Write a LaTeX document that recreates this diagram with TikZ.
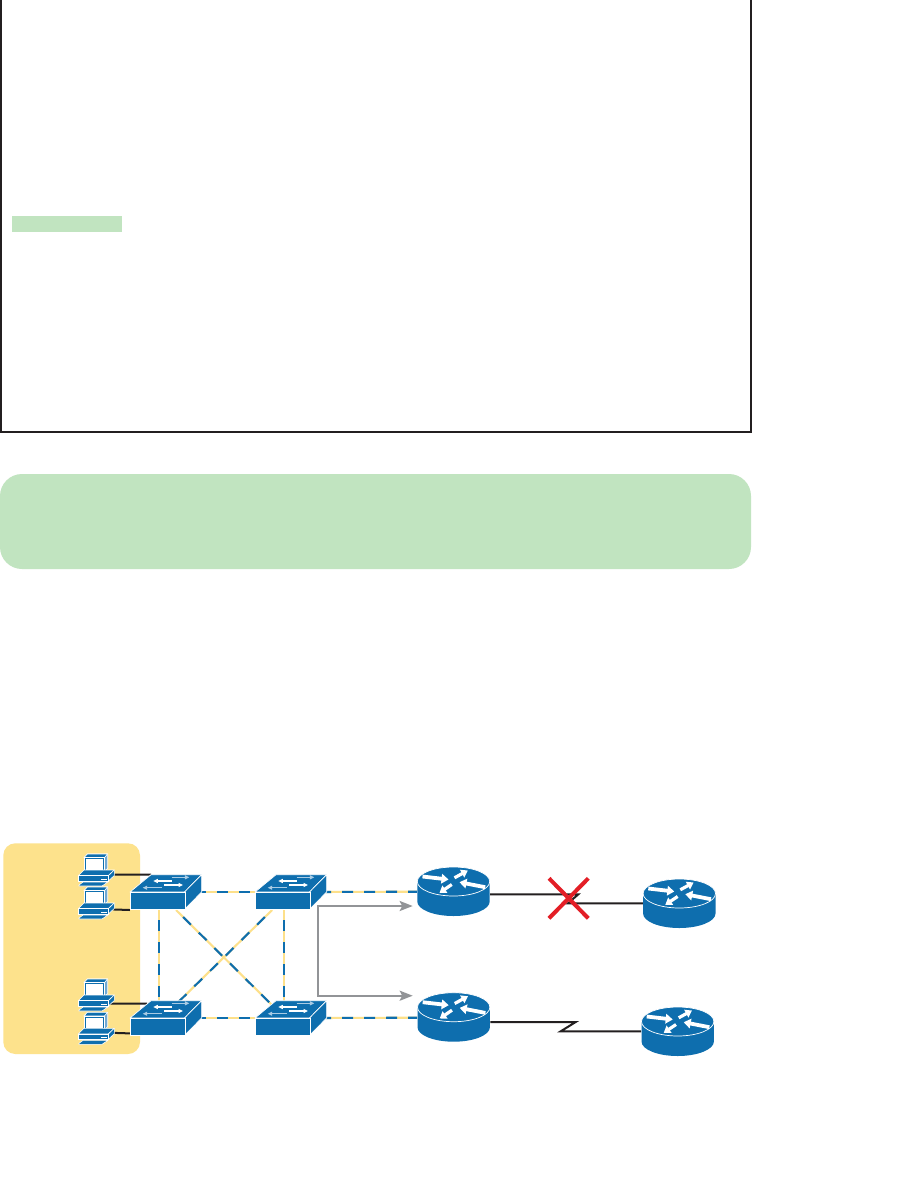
\documentclass[tikz,border=0pt]{standalone}
\usetikzlibrary{arrows.meta,shapes.geometric,calc}
\definecolor{netblue}{HTML}{0E6EAE}
\definecolor{paleblue}{HTML}{6FA8D2}
\definecolor{linkgold}{HTML}{FDE08A}
\definecolor{panelgold}{HTML}{FDE28C}
\definecolor{panelgreen}{HTML}{C1E4C0}
\definecolor{inkblack}{HTML}{231F20}
\definecolor{flowgrey}{HTML}{929497}
\definecolor{crossred}{HTML}{E31E26}
\pgfdeclarelayer{back}
\pgfdeclarelayer{links}
\pgfsetlayers{back,links,main}
\tikzset{
  x=1pt,y=-1pt,
  frameline/.style={draw=inkblack,line width=2.3pt},
  swfront/.style={rectangle,fill=netblue,draw=white,line width=.7pt,minimum width=54.5pt,minimum height=17.3pt,inner sep=0pt,anchor=north west},
  swface/.style={fill=netblue,draw=white,line width=.7pt,line join=round},
  swarrow/.style={line width=1.1pt,-{Triangle[length=4.5pt,width=4pt]}},
  rttop/.style={ellipse,fill=netblue,draw=white,line width=.7pt,minimum width=72.4pt,minimum height=29pt,inner sep=0pt},
  rtbig/.style={white,line width=3.8pt,-{Triangle[length=7pt,width=9.5pt]}},
  rtsmall/.style={white,line width=3.2pt,-{Triangle[length=6.5pt,width=8.5pt]}},
  pcbase/.style={rectangle,fill=netblue,draw=white,line width=.6pt,minimum width=30pt,minimum height=5.3pt,inner sep=0pt},
  pcface/.style={fill=netblue,draw=white,line width=.6pt,line join=round},
  wire/.style={draw=inkblack,line width=2pt},
  linkbase/.style={draw=linkgold,line width=2.1pt},
  linkdash/.style={draw=netblue,line width=2.1pt,dash pattern=on 11pt off 11pt,dash phase=12pt},
  flow/.style={draw=flowgrey,line width=2pt,{Stealth[length=13pt,width=10pt,inset=2.5pt]}-{Stealth[length=13pt,width=10pt,inset=2.5pt]}},
  crossbar/.style={draw=crossred,line width=4pt}
}
\newcommand{\netswitch}[3]{%
  \begin{scope}[shift={(#2,#3)}]
    \path[swface] (0,0) -- (21,-17.3) -- (71.7,-17.3) -- (54.5,0) -- cycle;
    \path[swface] (54.5,0) -- (71.7,-17.3) -- (71.7,0) -- (54.5,17.3) -- cycle;
    \draw[swarrow,white] (41.7,-11) -- (23.3,-11);
    \draw[swarrow,paleblue!60!white] (41.7,-14.7) -- (59.3,-14.7);
    \draw[swarrow,white] (34,-7) -- (53,-7);
    \draw[swarrow,paleblue!60!white] (31.7,-4.3) -- (12.7,-4.3);
  \end{scope}
  \node[swfront] (#1) at (#2,#3) {};%
}
\newcommand{\netrouter}[3]{%
  \fill[netblue] (#2-36.2,#3) -- (#2-36.2,#3+20) arc[start angle=180,end angle=360,x radius=36.2pt,y radius=14.5pt] -- (#2+36.2,#3) -- cycle;
  \node[rttop] (#1) at (#2,#3) {};
  \begin{scope}[shift={(#2,#3)}]
    \draw[rtbig] (-31,-5) -- (-5,-2);
    \draw[rtsmall] (1,-3.7) -- (14.3,-11);
    \draw[rtbig] (31.7,5.7) -- (6,.7);
    \draw[rtsmall] (-1.7,3) -- (-14,11.3);
  \end{scope}
}
\newcommand{\netpc}[3]{%
  \begin{scope}[shift={(#2,#3)}]
    \path[pcface,fill=paleblue] (0,3.7) -- (3.3,0) -- (23.7,0) -- (23.7,14.3) -- (20.3,17.7) -- cycle;
    \path[pcface] (0,3.7) -- (3.3,0) -- (23.7,0) -- (20.3,3.7) -- cycle;
    \path[pcface,fill=white] (0,3.7) rectangle (20.3,17.7);
    \path[fill=white,draw=netblue,line width=1.1pt] (1.2,4.9) rectangle (19.1,16.5);
    \path[pcface] (-5.7,21.7) -- (0,16) -- (30.3,16) -- (24.3,21.7) -- cycle;
    \path[pcface] (24.3,21.7) -- (30.3,16) -- (30.3,21.5) -- (24.3,27) -- cycle;
    \path[pcface] (-5,31) -- (-1,28) -- (24,28) -- (18,32) -- (-5,32) -- cycle;
  \end{scope}
  \node[pcbase] (#1) at (#2+9.3,#3+24.35) {};
  \fill[white] (#2+17,#3+24.6) rectangle (#2+23,#3+25.3);%
}
\begin{document}
\begin{tikzpicture}
  \useasboundingbox (0,0) rectangle (918,1194);
  \draw[frameline] (1,0) -- (1,432.3) -- (751,432.3) -- (751,0);
  \fill[panelgreen] (12,216) rectangle (122,232);
  \fill[panelgreen,rounded corners=22pt] (0,474) rectangle (751,569);

  \netswitch{s1}{130}{892}
  \netswitch{s2}{255}{892}
  \netswitch{s3}{130}{1018}
  \netswitch{s4}{255}{1018}
  \netrouter{r1}{453.5}{881.5}
  \netrouter{r2}{453.7}{1007.2}
  \netrouter{r3}{679.3}{893.5}
  \netrouter{r4}{677.7}{1021.5}
  \netpc{pc1}{84}{854}
  \netpc{pc2}{84}{887}
  \netpc{pc3}{84}{979}
  \netpc{pc4}{84}{1012.3}

  \coordinate (bolta1) at (578.3,894.3);
  \coordinate (bolta2) at (568,903.3);
  \coordinate (boltb1) at (575.7,1022);
  \coordinate (boltb2) at (560.7,1031.3);
  \coordinate (flowa) at (412.7,906);
  \coordinate (flowb) at (318.3,906);
  \coordinate (flowc) at (318.3,995.7);
  \coordinate (flowd) at (412.7,995.7);

  \begin{pgfonlayer}{back}
    \fill[white] (0,0) rectangle (918,1194);
    \fill[panelgold,rounded corners=12pt] (3.3,843.3) rectangle (140,1054);
  \end{pgfonlayer}

  \begin{pgfonlayer}{links}
    \foreach \a/\b in {%
      {(s1.north east)}/{(s2.north west)},
      {(s3.north east)}/{(s4.north west)},
      {(s2.north east)}/{($(r1.west)+(0pt,-10.2pt)$)},
      {(s4.north east)}/{($(r2.west)+(0pt,-10.5pt)$)},
      {($(s1.south)+(1.7pt,0pt)$)}/{($(s3.north)+(1.7pt,0pt)$)},
      {($(s2.south)+(1.5pt,0pt)$)}/{($(s4.north)+(1.5pt,0pt)$)},
      {($(s1.south)+(18.4pt,0pt)$)}/{($(s4.north)+(2.5pt,0pt)$)},
      {($(s2.south)+(-10.5pt,0pt)$)}/{($(s3.north)+(4.5pt,0pt)$)}}{%
      \draw[linkbase] \a -- \b;
      \draw[linkdash] \a -- \b;
    }
    \draw[wire] ($(pc1.east)+(0pt,3.65pt)$) -- ($(s1.north west)+(21pt,17.3pt)$);
    \draw[wire] ($(pc2.east)+(0pt,2.05pt)$) -- (s1.south west);
    \draw[wire] ($(pc3.east)+(0pt,-.35pt)$) -- ($(s3.north west)+(17pt,14.3pt)$);
    \draw[wire] ($(pc4.east)+(0pt,3.95pt)$) -- ($(s3.south west)+(0pt,2.6pt)$);
    \draw[wire] ($(r1.east)+(0pt,-12.8pt)$) -- (bolta1) -- (bolta2) -- ($(r3.west)+(0pt,-9.8pt)$);
    \draw[wire] ($(r2.east)+(0pt,-14.8pt)$) -- (boltb1) -- (boltb2) -- ($(r4.west)+(0pt,-9.8pt)$);
  \end{pgfonlayer}

  \draw[flow] (flowa) -- (flowb) -- (flowc) -- (flowd);
  \draw[crossbar] (549,878.3) -- (588.3,918.3);
  \draw[crossbar] (588.3,878.3) -- (549,918.3);
\end{tikzpicture}
\end{document}
